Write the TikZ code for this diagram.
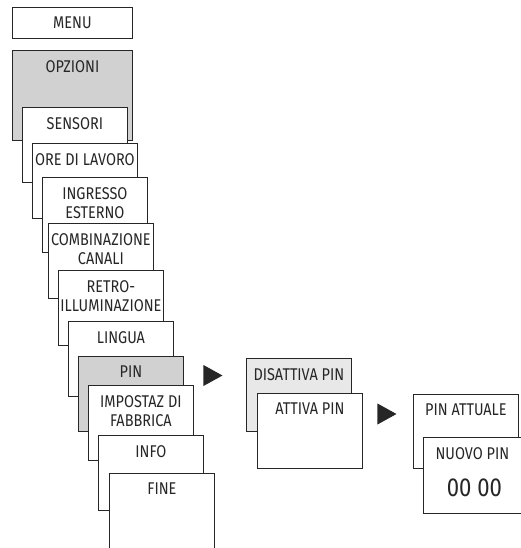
\documentclass[tikz,border=0pt]{standalone}
\usepackage{fontspec}
\setmainfont{Fira Sans}[FakeStretch=0.85]
\usepackage{tikz}
\usetikzlibrary{shapes.geometric,positioning}

\begin{document}
\begin{tikzpicture}[x=1pt, y=-1pt,
        menubox/.style={rectangle, draw=black!85, line width=0.8pt, fill=white, anchor=north west, minimum width=105pt, minimum height=75pt, inner sep=0pt},
        greybox/.style={menubox, fill=black!18},
        lightbox/.style={menubox, fill=black!9},
        boxtext/.style={label={[anchor=north, yshift=-10pt, inner sep=0pt, align=center, text=black!85, font=\fontsize{17}{19.8}\selectfont]north:{#1}}},
        bigtext/.style={label={[anchor=north, yshift=-41.5pt, xshift=2pt, inner sep=0pt, text=black!85, font=\fontsize{26}{26}\selectfont]north:{#1}}},
        tri/.style={isosceles triangle, isosceles triangle stretches, fill=black!85, minimum height=19pt, minimum width=21pt, inner sep=0pt, anchor=apex}]
        \useasboundingbox (0,0) rectangle (521,548);

        % Main menu cascade
        \node[menubox, minimum width=120pt, minimum height=31pt, boxtext=MENU] (menu) at (12,7) {};
        \node[greybox, minimum width=120pt, minimum height=90pt, boxtext=OPZIONI] (opzioni) at (12,50) {};
        \node[menubox, boxtext=SENSORI] (sensori) at (22,107) {};
        \node[menubox, boxtext=ORE DI LAVORO] (ore) at (32,143) {};
        \node[menubox, boxtext={INGRESSO\\ESTERNO}] (ingresso) at (42,177) {};
        \node[menubox, boxtext={COMBINAZIONE\\CANALI}] (combinazione) at (48,223) {};
        \node[menubox, boxtext={RETRO-\\ILLUMINAZIONE}] (retro) at (58,270) {};
        \node[menubox, boxtext=LINGUA] (lingua) at (68,321) {};
        \node[greybox, boxtext=PIN] (pin) at (78,356) {};
        \node[menubox, boxtext={IMPOSTAZ DI\\FABBRICA}] (impostaz) at (88,385) {};
        \node[menubox, boxtext=INFO] (info) at (98,435) {};
        \node[menubox, boxtext=FINE] (fine) at (109,473) {};

        % PIN submenu
        \node[tri] (tri1) at (223,375.5) {};
        \node[lightbox, minimum height=73pt, boxtext=DISATTIVA PIN] (disattiva) at (246,358) {};
        \node[menubox, boxtext=ATTIVA PIN] (attiva) at (257,393) {};

        % New PIN
        \node[tri] (tri2) at (397,414) {};
        \node[menubox, minimum height=74pt, boxtext=PIN ATTUALE] (attuale) at (413,394) {};
        \node[menubox, minimum width=98pt, minimum height=76pt, boxtext=NUOVO PIN, bigtext=00 00] (nuovo) at (423,437) {};
    \end{tikzpicture}
\end{document}
